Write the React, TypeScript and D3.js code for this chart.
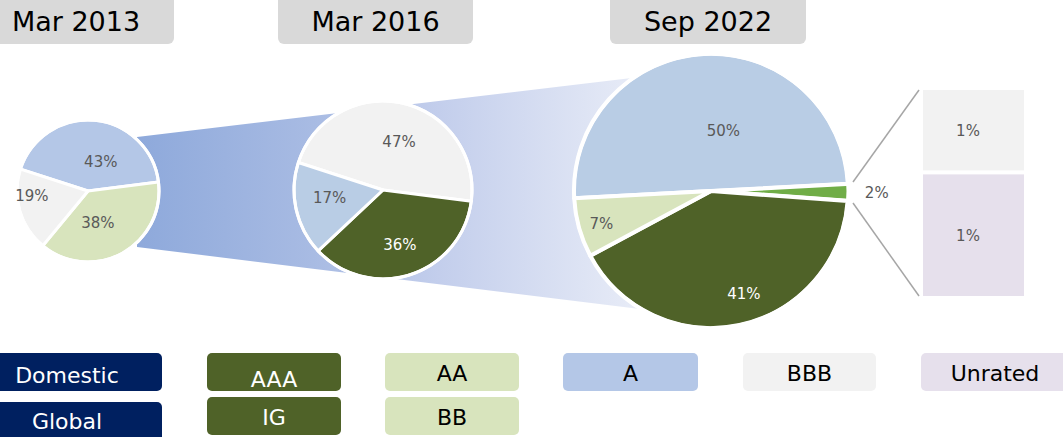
import React from "react";
import * as d3 from "d3";

// ---- data ----
const periods = ["Mar 2013", "Mar 2016", "Sep 2022"];

const pie1Categories = ["A", "AA", "BBB"];
const pie1Values = [43, 38, 19];

const pie2Categories = ["BBB", "AAA", "A"];
const pie2Values = [47, 36, 17];

const pie3Categories = ["A", "Other", "AAA", "AA"];
const pie3Values = [50, 2, 41, 7];

const barCategories = ["BBB", "Unrated"];
const barValues = [0.8, 1.2];

const legendRow1 = ["Domestic", "AAA", "AA", "A", "BBB", "Unrated"];
const legendRow2 = ["Global", "IG", "BB"];

// ---- styles ----
const colors: Record<string, string> = {
  A: "#B4C7E7",
  AA: "#D8E4BD",
  BBB: "#F2F2F2",
  AAA: "#4F6228",
  Other: "#70AD47",
  Unrated: "#E6E0EC",
  Domestic: "#002060",
  Global: "#002060",
  IG: "#4F6228",
  BB: "#D8E4BD",
};
const pieColorOverride: Record<string, string>[] = [{}, { A: "#B9CDE5" }, { A: "#B9CDE5" }];
const darkLabels = new Set(["Domestic", "Global", "AAA", "IG"]);

const pieLayout = [
  { cx: 88, cy: 191, r: 71, start: -72, sw: 3 },
  { cx: 383, cy: 190, r: 89, start: -72, sw: 3 },
  { cx: 711, cy: 191, r: 137, start: -93, sw: 4 },
];
// label offsets as fractions of the radius
const labelOffsets = [
  [[0.18, -0.41], [0.14, 0.45], [-0.79, 0.06]],
  [[0.18, -0.54], [0.19, 0.61], [-0.6, 0.09]],
  [[0.09, -0.44], [1.21, 0.015], [0.24, 0.75], [-0.8, 0.24]],
];

const titleBoxes = [
  { x0: -22, x1: 174 },
  { x0: 278, x1: 473 },
  { x0: 610, x1: 806 },
];

const legendX = [
  [-28, 162],
  [207, 341],
  [385, 519],
  [563, 698],
  [743, 876],
  [921, 1069],
];

const FONT = "'DejaVu Sans', sans-serif";

function Pie({ idx, cats, vals }: { idx: number; cats: string[]; vals: number[] }) {
  const L = pieLayout[idx];
  const s = (L.start * Math.PI) / 180;
  const pie = d3
    .pie<number>()
    .sort(null)
    .startAngle(s)
    .endAngle(s + 2 * Math.PI);
  const arcs = pie(vals);
  const arc = d3.arc<d3.PieArcDatum<number>>().innerRadius(0).outerRadius(L.r);
  return (
    <g transform={`translate(${L.cx},${L.cy})`}>
      {arcs.map((a, i) => {
        const cat = cats[i];
        const mid = (a.startAngle + a.endAngle) / 2;
        const ex = cat === "Other" ? 3 : 0;
        const dx = Math.sin(mid) * ex;
        const dy = -Math.cos(mid) * ex;
        const fill = pieColorOverride[idx][cat] || colors[cat];
        return (
          <path
            key={i}
            d={arc(a) || ""}
            transform={`translate(${dx},${dy})`}
            fill={fill}
            stroke="#fff"
            strokeWidth={L.sw}
            strokeLinejoin="round"
          />
        );
      })}
      <circle r={L.r} fill="none" stroke="#fff" strokeWidth={3} />
      {arcs.map((a, i) => {
        const cat = cats[i];
        const o = labelOffsets[idx][i];
        return (
          <text
            key={"t" + i}
            x={o[0] * L.r}
            y={o[1] * L.r}
            dy="0.36em"
            textAnchor="middle"
            fontFamily={FONT}
            fontSize={15}
            fill={cat === "AAA" ? "#ffffff" : "#595959"}
          >
            {`${vals[i]}%`}
          </text>
        );
      })}
    </g>
  );
}

export default function App() {
  // bar of pie
  const barTop = 90;
  const barBottom = 296;
  const gap = 4;
  const total = d3.sum(barValues);
  const yScale = d3
    .scaleLinear()
    .domain([0, total])
    .range([barTop, barBottom]);
  let acc = 0;
  const bars = barValues.map((v, i) => {
    const y0 = yScale(acc) + (i > 0 ? gap / 2 : 0);
    acc += v;
    const y1 = yScale(acc) - (i < barValues.length - 1 ? gap / 2 : 0);
    return { cat: barCategories[i], v, y0, y1 };
  });

  const P3 = pieLayout[2];

  return (
    <svg
      width={1063}
      height={437}
      style={{ position: "absolute", left: 0, top: 0, overflow: "hidden", background: "#fff" }}
    >
      <defs>
        <linearGradient id="band" gradientUnits="userSpaceOnUse" x1={137} y1={0} x2={640} y2={0}>
          <stop offset="0" stopColor="#8EA9DB" />
          <stop offset="0.35" stopColor="#A8BBE3" />
          <stop offset="0.6" stopColor="#C3CEEC" />
          <stop offset="1" stopColor="#E8ECF7" />
        </linearGradient>
      </defs>

      {/* titles */}
      {periods.map((p, i) => (
        <g key={p}>
          <rect
            x={titleBoxes[i].x0}
            y={-8}
            width={titleBoxes[i].x1 - titleBoxes[i].x0}
            height={52}
            rx={6}
            fill="#D9D9D9"
          />
          <text
            x={(titleBoxes[i].x0 + titleBoxes[i].x1) / 2}
            y={31}
            textAnchor="middle"
            fontFamily={FONT}
            fontSize={27}
            fill="#000"
          >
            {p}
          </text>
        </g>
      ))}

      {/* connecting band */}
      <polygon points="137,137 640,77 640,309 137,247" fill="url(#band)" />

      <Pie idx={0} cats={pie1Categories} vals={pie1Values} />
      <Pie idx={1} cats={pie2Categories} vals={pie2Values} />
      <Pie idx={2} cats={pie3Categories} vals={pie3Values} />

      {/* bar-of-pie connectors */}
      <line x1={P3.cx + 142} y1={182} x2={919} y2={barTop} stroke="#A6A6A6" strokeWidth={1.5} />
      <line x1={P3.cx + 142} y1={203} x2={919} y2={barBottom} stroke="#A6A6A6" strokeWidth={1.5} />
      {bars.map((b, i) => (
        <g key={b.cat}>
          <rect x={923} y={b.y0} width={101} height={b.y1 - b.y0} fill={colors[b.cat]} />
          <text
            x={968}
            y={(b.y0 + b.y1) / 2}
            dy="0.36em"
            textAnchor="middle"
            fontFamily={FONT}
            fontSize={15}
            fill="#595959"
          >
            {`${Math.round(b.v)}%`}
          </text>
        </g>
      ))}

      {/* legend */}
      {legendRow1.map((c, i) => (
        <g key={c}>
          <rect
            x={legendX[i][0]}
            y={353}
            width={legendX[i][1] - legendX[i][0]}
            height={38}
            rx={5}
            fill={colors[c]}
          />
          <text
            x={(legendX[i][0] + legendX[i][1]) / 2}
            y={c === "AAA" ? 387 : c === "Domestic" ? 383 : 381}
            textAnchor="middle"
            fontFamily={FONT}
            fontSize={22}
            fill={darkLabels.has(c) ? "#fff" : "#000"}
          >
            {c}
          </text>
        </g>
      ))}
      {legendRow2.map((c, i) => (
        <g key={c}>
          <rect
            x={legendX[i][0]}
            y={i === 0 ? 402 : 397}
            width={legendX[i][1] - legendX[i][0]}
            height={i === 0 ? 40 : 38}
            rx={5}
            fill={colors[c]}
          />
          <text
            x={(legendX[i][0] + legendX[i][1]) / 2}
            y={i === 0 ? 429 : 425}
            textAnchor="middle"
            fontFamily={FONT}
            fontSize={22}
            fill={darkLabels.has(c) ? "#fff" : "#000"}
          >
            {c}
          </text>
        </g>
      ))}
    </svg>
  );
}
